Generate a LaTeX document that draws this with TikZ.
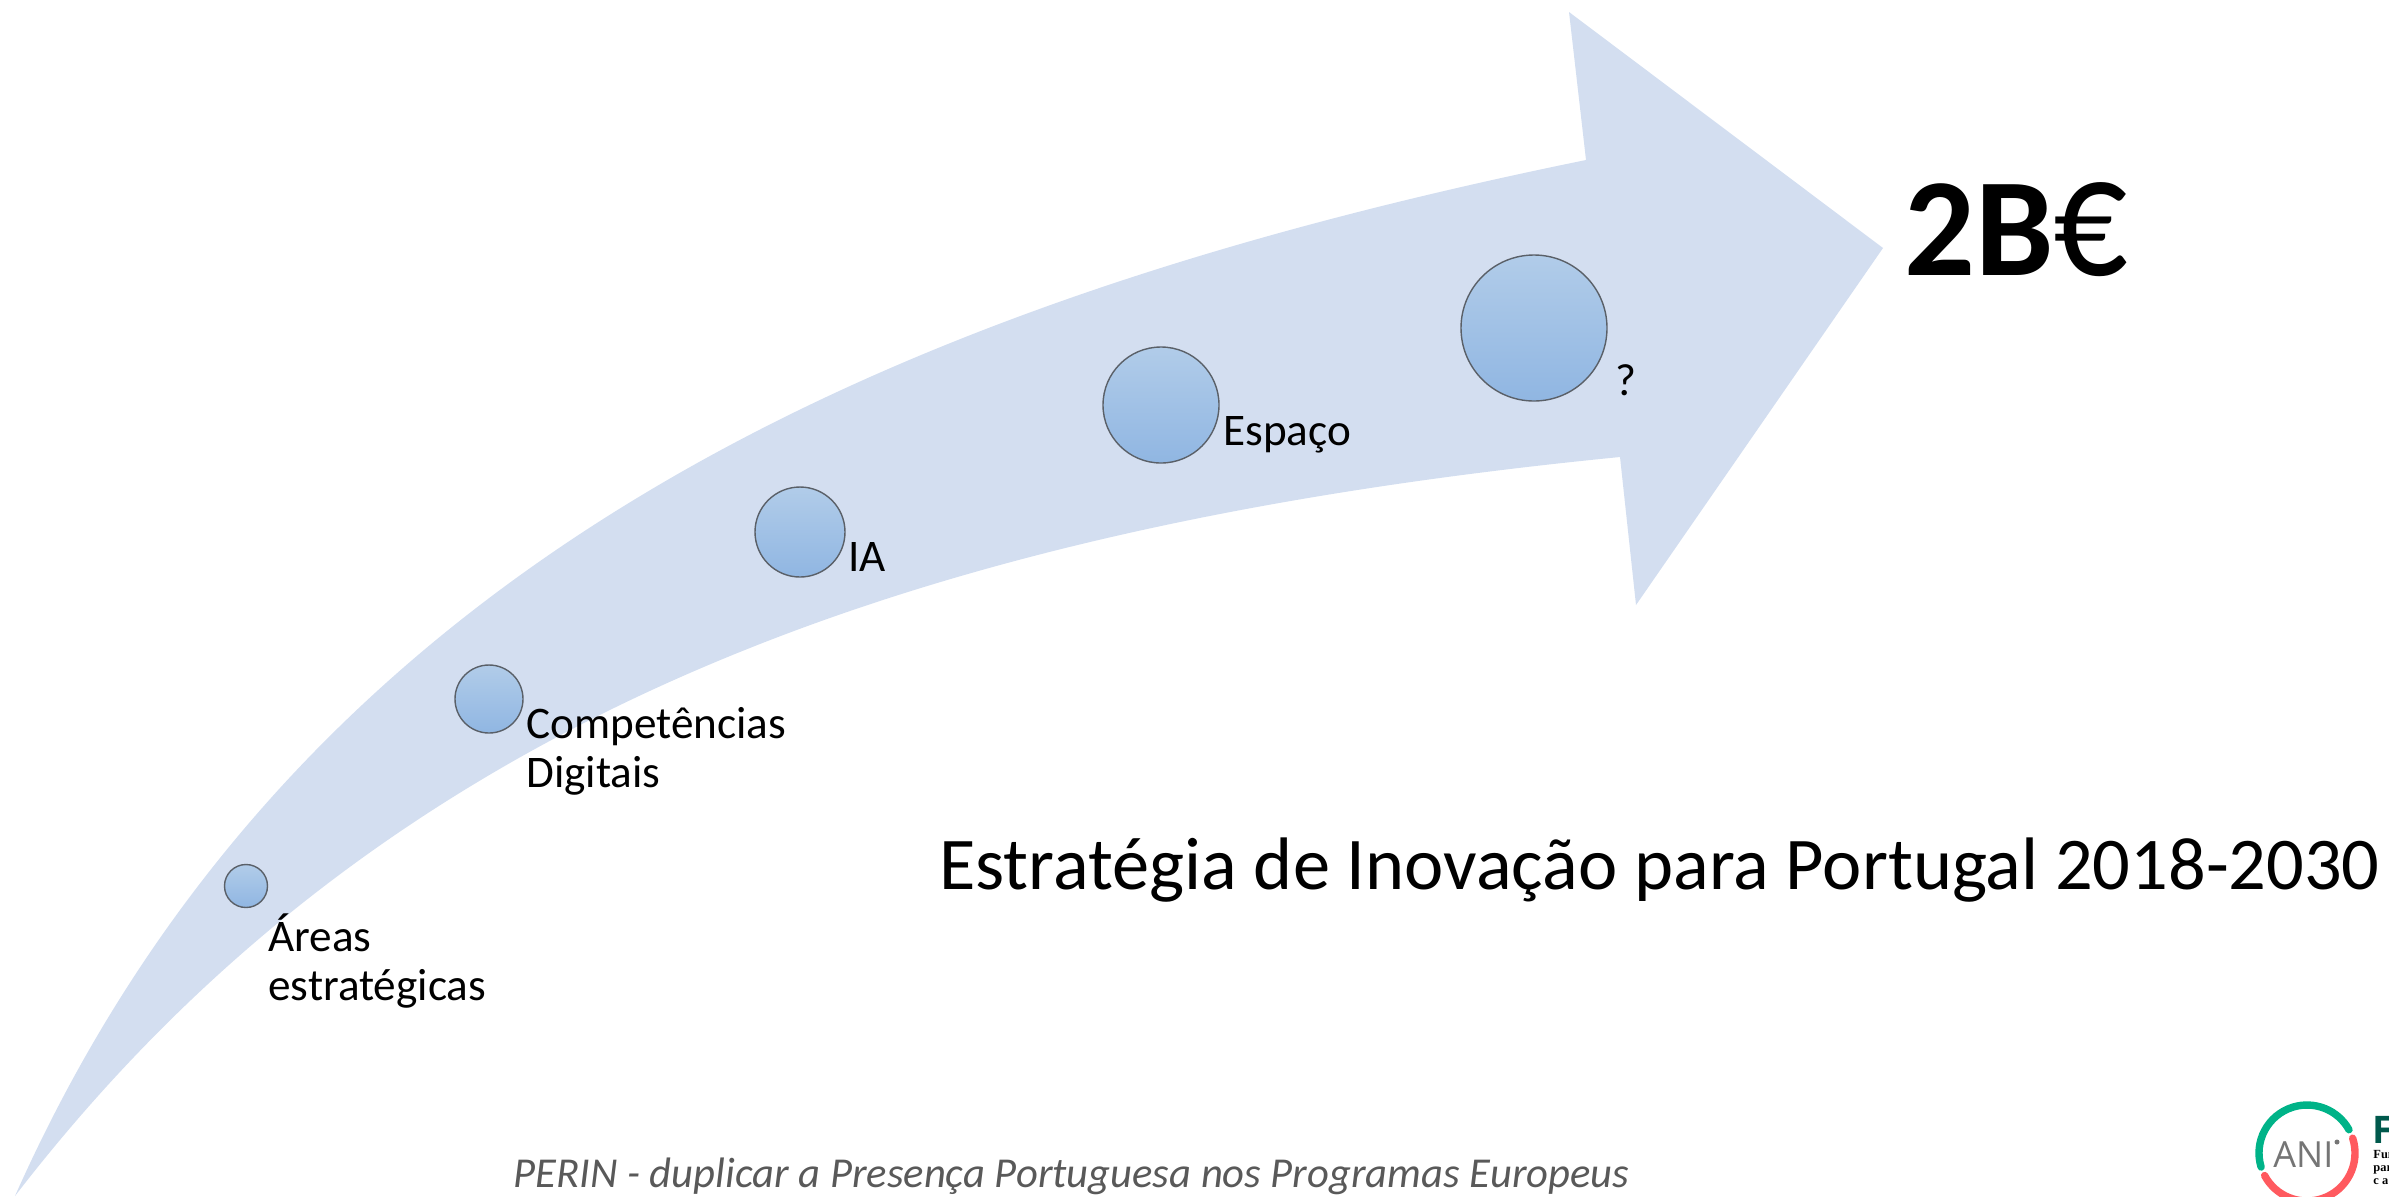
\documentclass[tikz,border=0pt]{standalone}
\usepackage{fontspec}
\setmainfont{Carlito}
\newfontfamily\logosans{Open Sans}
\newfontfamily\logoserif{Liberation Serif}
\definecolor{arrowfill}{HTML}{D3DEF0}
\definecolor{ctop}{HTML}{B1CCE9}
\definecolor{cbot}{HTML}{90B6E2}
\definecolor{cedge}{HTML}{5A6068}
\definecolor{perin}{HTML}{595959}
\definecolor{anigreen}{HTML}{00B388}
\definecolor{anired}{HTML}{FF5A5F}
\definecolor{anigrey}{HTML}{757575}
\definecolor{fctgreen}{HTML}{00594C}
\tikzset{
  stepdot/.style={circle,draw=cedge,line width=0.7pt,top color=ctop,bottom color=cbot,inner sep=0pt,minimum size=#1},
  lbl/.style={inner sep=0pt,anchor=base west,align=left,font=\fontsize{22.6}{24.5}\selectfont,text=black},
  tinytxt/.style={inner sep=0pt,anchor=base west,font=\fontsize{6.2}{7}\selectfont\logoserif\bfseries,text=black},
  ringarc/.style={line width=3.7pt,line cap=round}
}
\begin{document}
\begin{tikzpicture}[x=0.5pt,y=-0.5pt]
\useasboundingbox (0,0) rectangle (2389,1196);
\clip (0,0) rectangle (2389,1196);
\fill[arrowfill] (15,1196) .. controls (300,555) and (900,300) .. (1586,160)
  -- (1569,12) -- (1883,248) -- (1636,605) -- (1620,457)
  .. controls (900,528) and (380,722) .. cycle;
\node[stepdot=43pt/2] (c1) at (246,886) {};
\node[stepdot=34pt] (c2) at (489,699) {};
\node[stepdot=45pt] (c3) at (800,532) {};
\node[stepdot=58pt] (c4) at (1161,405) {};
\node[stepdot=73pt] (c5) at (1534,328) {};
\node[lbl] (l1) at (268,1000) {Áreas\\estratégicas};
\node[lbl] (l2) at (526,787) {Competências\\Digitais};
\node[lbl] (l3) at (848,571) {IA};
\node[lbl] (l4) at (1223,445) {Espaço};
\node[lbl] (l5) at (1615,395) {?};
\node[inner sep=0pt,anchor=base west,font=\fontsize{70}{70}\selectfont\bfseries] (big) at (1904,275) {2B{\mdseries\scalebox{1.05}[1.25]{€}}};
\node[inner sep=0pt,anchor=base west,font=\fontsize{37.2}{40}\selectfont] (title) at (939,889) {Estratégia de Inovação para Portugal 2018-2030};
\node[inner sep=0pt,anchor=base west,font=\fontsize{21.3}{24}\selectfont\itshape,text=perin] (perintxt) at (513,1187) {PERIN - duplicar a Presença Portuguesa nos Programas Europeus};
% logo
\coordinate (ring) at (2307,1153);
\draw[anigreen,ringarc] (ring) ++(163:48) arc[start angle=163,end angle=331,radius=48];
\draw[anired,ringarc] (ring) ++(-18:48) arc[start angle=-18,end angle=152,radius=48];
\node[inner sep=0pt,anchor=base west,font=\fontsize{18}{18}\selectfont\logosans,text=anigrey] (ani) at (2273,1167) {ANI};
\node[circle,fill=anigrey,inner sep=0pt,minimum size=2.5pt] (anidot) at (2337,1142) {};
\node[inner sep=0pt,anchor=base west,font=\fontsize{19}{19}\selectfont\logosans\bfseries,text=fctgreen] (fct) at (2372,1143) {F};
\node[tinytxt] (t1) at (2373,1158) {Fun};
\node[tinytxt] (t2) at (2373,1171) {par};
\node[tinytxt] (t3) at (2373,1184) {c a};
\end{tikzpicture}
\end{document}
